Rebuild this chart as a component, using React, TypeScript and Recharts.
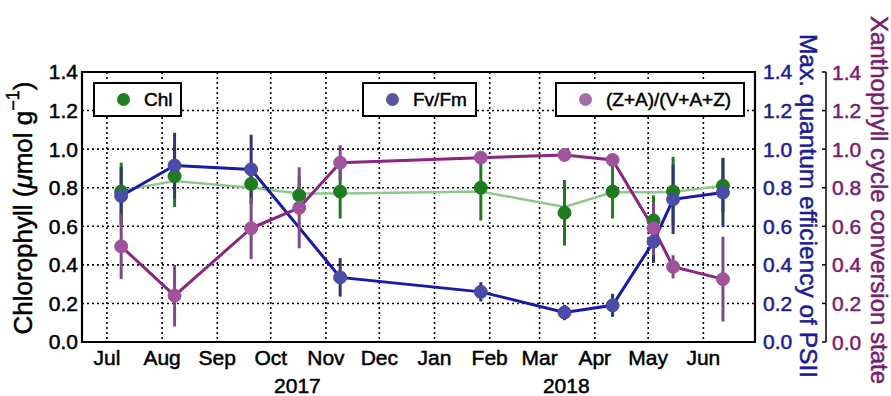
import React from 'react';
import {
  ComposedChart,
  Line,
  XAxis,
  YAxis,
  CartesianGrid,
  ErrorBar,
  Legend,
  Label,
  ReferenceArea,
} from 'recharts';

// x = days since 1 Jul 2017
const monthTicks = [0, 31, 62, 92, 123, 153, 184, 215, 243, 274, 304, 335];
const monthLabels = ['Jul', 'Aug', 'Sep', 'Oct', 'Nov', 'Dec', 'Jan', 'Feb', 'Mar', 'Apr', 'May', 'Jun'];
const yearTicks = [107, 258];
const yearLabels = ['2017', '2018'];
const yTicks = [0, 0.2, 0.4, 0.6, 0.8, 1.0, 1.2, 1.4];

const chlDays = [8, 38, 81, 108, 131, 210, 257, 284, 307, 318, 346];
const chlValues = [0.78, 0.86, 0.82, 0.76, 0.78, 0.8, 0.67, 0.78, 0.63, 0.78, 0.81];
const chlErrors = [0.15, 0.16, 0.1, 0.1, 0.14, 0.17, 0.17, 0.14, 0.13, 0.18, 0.14];
const chlSmooth = [0.785, 0.835, 0.8, 0.77, 0.77, 0.78, 0.7, 0.776, 0.776, 0.778, 0.81];

const fvDays = [8, 38, 81, 131, 210, 257, 284, 307, 318, 346];
const fvValues = [0.757, 0.915, 0.895, 0.335, 0.26, 0.153, 0.19, 0.52, 0.74, 0.775];
const fvErrors = [0.15, 0.17, 0.18, 0.1, 0.05, 0.04, 0.06, 0.11, 0.18, 0.18];

const xcDays = [8, 38, 81, 108, 131, 210, 257, 284, 307, 318, 346];
const xcValues = [0.496, 0.24, 0.59, 0.696, 0.93, 0.956, 0.97, 0.944, 0.59, 0.39, 0.326];
const xcErrors = [0.17, 0.16, 0.16, 0.21, 0.09, 0.03, 0.02, 0.03, 0.14, 0.06, 0.22];

const legendNames = ['Chl', 'Fv/Fm', '(Z+A)/(V+A+Z)'];

const chlData = chlDays.map((d, i) => ({ day: d, v: chlValues[i], e: chlErrors[i] }));
const smoothData = chlDays.map((d, i) => ({ day: d, s: chlSmooth[i] }));
const fvData = fvDays.map((d, i) => ({ day: d, v: fvValues[i], e: fvErrors[i] }));
const xcData = xcDays.map((d, i) => ({ day: d, v: xcValues[i], e: xcErrors[i] }));

const FONT = '"Liberation Sans", Arial, Helvetica, sans-serif';
const BLUE_TXT = '#1c1c94';
const PURPLE_TXT = '#7a1c6e';

const legendStyle: Record<string, { left: number; width: number; marker: string }> = {
  Chl: { left: 93, width: 89, marker: '#1e7f1e' },
  'Fv/Fm': { left: 362, width: 115, marker: '#5a559e' },
  '(Z+A)/(V+A+Z)': { left: 555, width: 190, marker: '#a86ca8' },
};

const LegendContent = (props: any) => {
  const payload = (props.payload || []).filter((p: any) => legendNames.includes(p.value));
  return (
    <div style={{ position: 'relative', width: 891, height: 396, pointerEvents: 'none' }}>
      {payload.map((p: any) => {
        const st = legendStyle[p.value];
        return (
          <div
            key={p.value}
            style={{
              position: 'absolute',
              left: st.left,
              top: 82,
              width: st.width,
              height: 35,
              boxSizing: 'border-box',
              border: '2px solid #000',
              background: '#fff',
              display: 'flex',
              alignItems: 'center',
              fontFamily: FONT,
              fontSize: 19,
              color: '#000',
              WebkitTextStroke: '0.5px #000',
              whiteSpace: 'nowrap',
            }}
          >
            <span
              style={{
                display: 'inline-block',
                width: 13,
                height: 13,
                borderRadius: '50%',
                background: st.marker,
                marginLeft: 22,
                marginRight: 14,
                flex: 'none',
              }}
            />
            <span>{p.value}</span>
          </div>
        );
      })}
    </div>
  );
};

const LeftTitle = () => (
  <text
    x={23}
    y={208}
    transform="rotate(-90 23 208)"
    textAnchor="middle"
    dominantBaseline="central"
    fontFamily={FONT}
    fontSize={26}
    fill="#000"
    stroke="#000"
    strokeWidth={0.5}
  >
    Chlorophyll (<tspan fontStyle="italic">μ</tspan>mol g
    <tspan dy={-10} fontSize={18}>−1</tspan>
    <tspan dy={10}>)</tspan>
  </text>
);

const BlueTitle = () => (
  <text
    x={808}
    y={206}
    transform="rotate(90 808 206)"
    textAnchor="middle"
    dominantBaseline="central"
    fontFamily={FONT}
    fontSize={24.5}
    fill={BLUE_TXT}
    stroke={BLUE_TXT}
    strokeWidth={0.5}
  >
    Max. quantum efficiency of PSII
  </text>
);

const PurpleTitle = () => (
  <text
    x={879}
    y={200}
    transform="rotate(90 879 200)"
    textAnchor="middle"
    dominantBaseline="central"
    fontFamily={FONT}
    fontSize={24}
    fill={PURPLE_TXT}
    stroke={PURPLE_TXT}
    strokeWidth={0.5}
  >
    Xanthophyll cycle conversion state
  </text>
);

const PurpleTick = (props: any) => {
  const { x, y, payload } = props;
  return (
    <g>
      <line x1={x - 10} x2={x - 6} y1={y} y2={y} stroke="#000" strokeWidth={1.5} />
      <text
        x={x}
        y={y}
        dy="0.36em"
        textAnchor="start"
        fontFamily={FONT}
        fontSize={21}
        fill={PURPLE_TXT}
        stroke={PURPLE_TXT}
        strokeWidth={0.5}
      >
        {Number(payload.value).toFixed(1)}
      </text>
    </g>
  );
};

const fmt = (v: number) => v.toFixed(1);
const tickStyle = (c: string) => ({ fill: c, stroke: c, strokeWidth: 0.5, fontSize: 21, fontFamily: FONT });

export default function App() {
  return (
    <div style={{ position: 'absolute', left: 0, top: 0, width: 891, height: 396, background: '#fff' }}>
      <ComposedChart width={891} height={396} margin={{ top: 72, right: 0, bottom: 0, left: 0 }}>
        <CartesianGrid
          xAxisId="m"
          yAxisId="chl"
          stroke="#000"
          strokeWidth={1.6}
          strokeDasharray="2 3"
          verticalValues={monthTicks}
          horizontalValues={yTicks}
        />
        <XAxis
          xAxisId="m"
          dataKey="day"
          type="number"
          domain={[-14, 364]}
          allowDataOverflow
          ticks={monthTicks}
          interval={0}
          tickFormatter={(v: number) => monthLabels[monthTicks.indexOf(v)]}
          axisLine={false}
          tickLine={false}
          tickSize={8}
          tickMargin={0}
          height={30}
          tick={tickStyle('#000')}
        />
        <XAxis
          xAxisId="yr"
          dataKey="day"
          type="number"
          domain={[-14, 364]}
          allowDataOverflow
          ticks={yearTicks}
          interval={0}
          tickFormatter={(v: number) => yearLabels[yearTicks.indexOf(v)]}
          axisLine={false}
          tickLine={false}
          tickSize={6}
          tickMargin={0}
          height={24}
          tick={tickStyle('#000')}
        />
        <YAxis
          yAxisId="chl"
          domain={[0, 1.4]}
          ticks={yTicks}
          interval={0}
          width={82}
          axisLine={false}
          tickLine={false}
          tickSize={4}
          tickMargin={0}
          tickFormatter={fmt}
          tick={tickStyle('#000')}
        >
          <Label content={() => <LeftTitle />} />
        </YAxis>
        <YAxis
          yAxisId="fv"
          orientation="right"
          domain={[0, 1.4]}
          ticks={yTicks}
          interval={0}
          width={71}
          axisLine={false}
          tickLine={false}
          tickSize={8}
          tickMargin={0}
          tickFormatter={fmt}
          tick={tickStyle(BLUE_TXT)}
        >
          <Label content={() => <BlueTitle />} />
        </YAxis>
        <YAxis
          yAxisId="xc"
          orientation="right"
          domain={[0, 1.4]}
          ticks={yTicks}
          interval={0}
          width={65}
          axisLine={{ stroke: '#000', strokeWidth: 1.5 }}
          tickLine={false}
          tickSize={6}
          tickMargin={0}
          tick={<PurpleTick />}
        >
          <Label content={() => <PurpleTitle />} />
        </YAxis>

        <Line
          xAxisId="m"
          yAxisId="chl"
          data={smoothData}
          dataKey="s"
          name="chl-smooth"
          legendType="none"
          stroke="#8dc98d"
          strokeWidth={2.5}
          dot={false}
          activeDot={false}
          isAnimationActive={false}
        />
        <Line
          xAxisId="m"
          yAxisId="chl"
          data={chlData}
          dataKey="v"
          name="Chl"
          legendType="circle"
          stroke="none"
          dot={{ r: 6.5, fill: '#1e7b1e', stroke: '#1e7b1e', strokeWidth: 1 }}
          activeDot={false}
          isAnimationActive={false}
        >
          <ErrorBar dataKey="e" direction="y" width={0} stroke="#1e7b1e" strokeWidth={3} isAnimationActive={false} />
        </Line>
        <Line
          xAxisId="m"
          yAxisId="fv"
          data={fvData}
          dataKey="v"
          name="Fv/Fm"
          legendType="circle"
          stroke="#1a1aa6"
          strokeWidth={3}
          dot={{ r: 6.5, fill: '#4b4ba8', stroke: '#4b4ba8', strokeWidth: 1 }}
          activeDot={false}
          isAnimationActive={false}
        >
          <ErrorBar dataKey="e" direction="y" width={0} stroke="#34346e" strokeWidth={3} isAnimationActive={false} />
        </Line>
        <Line
          xAxisId="m"
          yAxisId="xc"
          data={xcData}
          dataKey="v"
          name="(Z+A)/(V+A+Z)"
          legendType="circle"
          stroke="#8a2580"
          strokeWidth={3}
          dot={{ r: 6.5, fill: '#a0529c', stroke: '#a0529c', strokeWidth: 1 }}
          activeDot={false}
          isAnimationActive={false}
        >
          <ErrorBar dataKey="e" direction="y" width={0} stroke="#7d4a86" strokeWidth={3} isAnimationActive={false} />
        </Line>

        <ReferenceArea
          xAxisId="m"
          yAxisId="chl"
          x1={-14}
          x2={364}
          y1={0}
          y2={1.4}
          fill="none"
          fillOpacity={0}
          stroke="#000"
          strokeWidth={2.2}
          ifOverflow="visible"
        />
        <Legend
          layout="horizontal"
          verticalAlign="middle"
          align="center"
          wrapperStyle={{ position: 'absolute', left: 0, top: 0, width: 891, height: 396 }}
          content={LegendContent}
        />
      </ComposedChart>
    </div>
  );
}
